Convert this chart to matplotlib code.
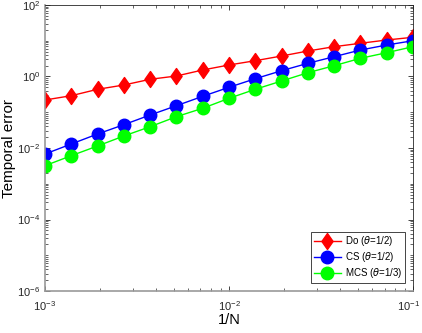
import numpy as np
import matplotlib
matplotlib.use("Agg")
import matplotlib.pyplot as plt
from matplotlib.ticker import LogLocator, NullFormatter
from matplotlib.path import Path
import matplotlib.transforms as mtransforms

plt.rcParams['font.family'] = ['Liberation Sans', 'DejaVu Sans']

# x = 1/N
inv_N = [10 ** (-3 + 2 * k / 14) for k in range(15)]
# log10 of errors
do_log = [-0.657, -0.537, -0.358, -0.238, -0.078, 0.014, 0.182, 0.322, 0.442,
          0.573, 0.713, 0.834, 0.929, 1.021, 1.097]
cs_log = [-2.168, -1.888, -1.608, -1.348, -1.077, -0.817, -0.554, -0.302, -0.062,
          0.162, 0.369, 0.554, 0.741, 0.881, 1.001]
mcs_log = [-2.495, -2.215, -1.944, -1.664, -1.404, -1.124, -0.889, -0.610, -0.358,
           -0.126, 0.106, 0.302, 0.509, 0.666, 0.834]
labels = [r"Do ($\theta$=1/2)", r"CS ($\theta$=1/2)", r"MCS ($\theta$=1/3)"]

do_err = [10 ** v for v in do_log]
cs_err = [10 ** v for v in cs_log]
mcs_err = [10 ** v for v in mcs_log]

diamond = Path([(0, 1), (0.7, 0), (0, -1), (-0.7, 0), (0, 1)],
               [Path.MOVETO, Path.LINETO, Path.LINETO, Path.LINETO, Path.CLOSEPOLY])

fig = plt.figure(figsize=(4.22, 3.33), dpi=100)
ax = fig.add_axes([0.1066, 0.1261, 0.8721, 0.8589])

ax.loglog(inv_N, do_err, '-', color='red', marker=diamond, markersize=11.5, lw=1, label=labels[0])
ax.loglog(inv_N, cs_err, '-', color='blue', marker='o', markersize=9, lw=1, label=labels[1])
ax.loglog(inv_N, mcs_err, '-', color='#00ff00', marker='o', markersize=9, lw=1, label=labels[2])

ax.set_xlim(1e-3, 1e-1)
ax.set_ylim(1e-6, 1e2)
ax.yaxis.set_major_locator(LogLocator(base=100))
ax.yaxis.set_minor_locator(LogLocator(base=10, subs=np.arange(1, 10), numticks=50))
ax.yaxis.set_minor_formatter(NullFormatter())
ax.xaxis.set_minor_locator(LogLocator(base=10, subs=np.arange(2, 10), numticks=50))
ax.xaxis.set_minor_formatter(NullFormatter())

ax.tick_params(which='both', direction='in', top=True, right=True, colors='#262626',
               labelsize=8)
ax.tick_params(which='major', length=3.5, width=0.6)
ax.tick_params(which='minor', length=2, width=0.5)
ax.tick_params(axis='x', pad=6)
for s in ax.spines.values():
    s.set_color('#262626')
    s.set_linewidth(0.6)
ax.spines['left'].set_color('#999999')
ax.spines['left'].set_linewidth(1.2)
ax.spines['bottom'].set_color('#999999')
ax.spines['bottom'].set_linewidth(1.2)

ax.set_xlabel('1/N', fontsize=10.5, labelpad=0)
ax.set_ylabel('Temporal error', fontsize=11, labelpad=1)

leg = ax.legend(loc='lower right', fontsize=7, frameon=True, fancybox=False,
                edgecolor='#262626', framealpha=1, borderpad=0.3, labelspacing=0.2,
                handlelength=2.8, handletextpad=0.4, borderaxespad=0.8)
leg.get_frame().set_linewidth(0.6)

# nudge the rightmost x tick label inward so it stays inside the canvas
fig.canvas.draw()
for tick in ax.xaxis.get_major_ticks():
    if np.isclose(tick.get_loc(), 1e-1):
        lbl = tick.label1
        lbl.set_transform(lbl.get_transform() +
                          mtransforms.ScaledTranslation(-3 / 72, 0, fig.dpi_scale_trans))

fig.savefig('out.png', dpi=100)
